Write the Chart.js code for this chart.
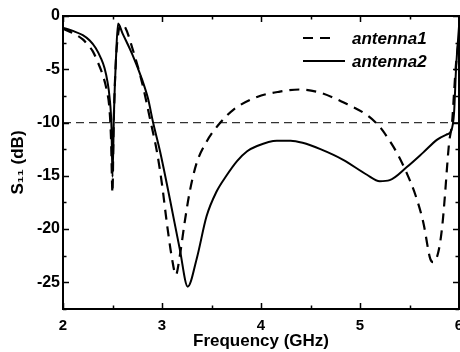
<!DOCTYPE html>
<html><head><meta charset="utf-8">
<script src="https://cdn.jsdelivr.net/npm/chart.js@4"></script>
<style>html,body{margin:0;padding:0;background:#fff}#wrap{width:460px;height:352px}</style>
</head><body><div id="wrap"><canvas id="c" width="460" height="352"></canvas></div>
<script>
// ---- data ----
const freqAntenna1 = [2.00,2.10,2.20,2.25,2.30,2.35,2.40,2.44,2.47,2.485,2.50,2.51,2.53,2.56,2.59,2.63,2.70,2.80,2.88,2.95,3.00,3.05,3.10,3.14,3.18,3.23,3.28,3.35,3.45,3.59,3.72,3.96,4.19,4.39,4.60,4.83,5.07,5.20,5.27,5.37,5.47,5.56,5.64,5.71,5.74,5.79,5.83,5.86,5.88,5.90,5.93,5.95,5.97,6.00];
const s11Antenna1 = [-1.2,-1.6,-2.2,-2.7,-3.3,-4.3,-5.5,-6.9,-8.8,-11.5,-16.6,-11,-5,-1.5,-0.8,-1.1,-3.0,-6.3,-9.7,-12.8,-15.8,-19.5,-22.7,-24.3,-22.5,-19.3,-16.5,-13.8,-11.8,-10,-8.8,-7.6,-7.1,-6.9,-7.2,-8.1,-9.3,-10.4,-11.3,-12.8,-14.7,-16.8,-19.4,-22.8,-23.1,-22.2,-19.8,-16.6,-14.1,-11.9,-10,-7.2,-4.5,-2];
const freqAntenna2 = [2.00,2.10,2.20,2.27,2.33,2.38,2.42,2.45,2.47,2.49,2.50,2.515,2.535,2.556,2.60,2.70,2.80,2.86,2.91,2.98,3.08,3.18,3.26,3.35,3.45,3.55,3.65,3.76,3.86,3.96,4.16,4.30,4.42,4.60,4.83,5.07,5.20,5.30,5.47,5.64,5.78,5.88,5.92,5.95,5.97,6.00];
const s11Antenna2 = [-1.1,-1.4,-1.8,-2.3,-3.0,-3.9,-4.9,-6.2,-7.6,-10.5,-15.1,-9,-4,-0.7,-1.6,-3.6,-6.0,-7.8,-10,-12.7,-17.2,-21.9,-25.4,-22.8,-18.8,-16.5,-15.0,-13.6,-12.7,-12.2,-11.7,-11.7,-11.9,-12.5,-13.5,-14.9,-15.5,-15.4,-14.2,-12.8,-11.6,-11.1,-10.8,-9.1,-5,-1];
const refFreq = [2, 6];
const refLevel = [-10, -10];
const seriesNames = ['antenna1', 'antenna2'];
const xTicks = [2, 3, 4, 5, 6];
const yTicks = [0, -5, -10, -15, -20, -25];
const xMinorTicks = [2.5, 3.5, 4.5, 5.5];
const yMinorTicks = [-2.5, -7.5, -12.5, -17.5, -22.5, -27.5];

const FONT = '"Liberation Sans", Arial, sans-serif';
const toXY = (xs, ys) => xs.map((x, i) => ({x: x, y: ys[i]}));

const framePlugin = {
  id: 'frame',
  afterDatasetsDraw(chart) {
    const {ctx, chartArea: a, scales: {x, y}} = chart;
    ctx.save();
    ctx.strokeStyle = '#000';
    ctx.lineWidth = 1.5;
    ctx.beginPath();
    const tick = (vals, len) => {
      vals.forEach(v => {
        const px = Math.round(x.getPixelForValue(v)) + 0.5;
        ctx.moveTo(px, a.bottom); ctx.lineTo(px, a.bottom - len);
        ctx.moveTo(px, a.top); ctx.lineTo(px, a.top + len);
      });
    };
    const ytick = (vals, len) => {
      vals.forEach(v => {
        const py = Math.round(y.getPixelForValue(v)) + 0.5;
        ctx.moveTo(a.left, py); ctx.lineTo(a.left + len, py);
        ctx.moveTo(a.right, py); ctx.lineTo(a.right - len, py);
      });
    };
    tick(xTicks, 6); tick(xMinorTicks, 3.5);
    ytick(yTicks, 6); ytick(yMinorTicks, 3.5);
    ctx.stroke();
    ctx.lineWidth = 2;
    ctx.strokeRect(a.left, a.top, a.right - a.left, a.bottom - a.top);
    // legend
    const ds = chart.data.datasets;
    const rows = [{y: 38, d: ds[0]}, {y: 61, d: ds[1]}];
    ctx.font = 'italic bold 17px ' + FONT;
    ctx.fillStyle = '#000';
    ctx.textBaseline = 'middle';
    rows.forEach(r => {
      ctx.beginPath();
      ctx.lineWidth = 2.2;
      ctx.setLineDash(r.d.borderDash || []);
      ctx.moveTo(303, r.y); ctx.lineTo(r.d.borderDash ? 334 : 345, r.y);
      ctx.stroke();
      ctx.setLineDash([]);
      ctx.fillText(r.d.label, 352, r.y + 1);
    });
    ctx.restore();
  }
};

new Chart(document.getElementById('c'), {
  type: 'line',
  data: {
    datasets: [
      {label: seriesNames[0], data: toXY(freqAntenna1, s11Antenna1), borderColor: '#000', borderWidth: 2.2, borderDash: [10, 7], pointRadius: 0, cubicInterpolationMode: 'monotone', fill: false},
      {label: seriesNames[1], data: toXY(freqAntenna2, s11Antenna2), borderColor: '#000', borderWidth: 2, pointRadius: 0, cubicInterpolationMode: 'monotone', fill: false},
      {label: 'ref', data: toXY(refFreq, refLevel), borderColor: '#333', borderWidth: 1.2, borderDash: [8, 5], pointRadius: 0, tension: 0, fill: false}
    ]
  },
  options: {
    responsive: false,
    devicePixelRatio: 1,
    animation: false,
    layout: {padding: {top: 16, right: 1, left: 0, bottom: 0}},
    plugins: {legend: {display: false}, tooltip: {enabled: false}},
    scales: {
      x: {
        type: 'linear', min: 2, max: 6,
        afterBuildTicks: s => { s.ticks = xTicks.map(v => ({value: v})); },
        afterFit: s => { s.height = 43; s.paddingLeft = 0; s.paddingRight = 0; },
        grid: {display: false, drawTicks: false},
        border: {display: false},
        ticks: {color: '#000', padding: 8, maxRotation: 0, font: {family: FONT, size: 15, weight: 'bold'}},
        title: {display: true, text: 'Frequency (GHz)', color: '#000', padding: {top: 0, bottom: 0}, font: {family: FONT, size: 17, weight: 'bold'}}
      },
      y: {
        type: 'linear', min: -27.5, max: 0,
        afterBuildTicks: s => { s.ticks = yTicks.map(v => ({value: v})); },
        afterFit: s => { s.width = 63; s.paddingTop = 0; s.paddingBottom = 0; },
        grid: {display: false, drawTicks: false},
        border: {display: false},
        ticks: {color: '#000', padding: 3, font: {family: FONT, size: 16, weight: 'bold'}},
        title: {display: true, text: 'S₁₁ (dB)', color: '#000', padding: {top: 8, bottom: 0}, font: {family: FONT, size: 17, weight: 'bold'}}
      }
    }
  },
  plugins: [framePlugin]
});
</script></body></html>
